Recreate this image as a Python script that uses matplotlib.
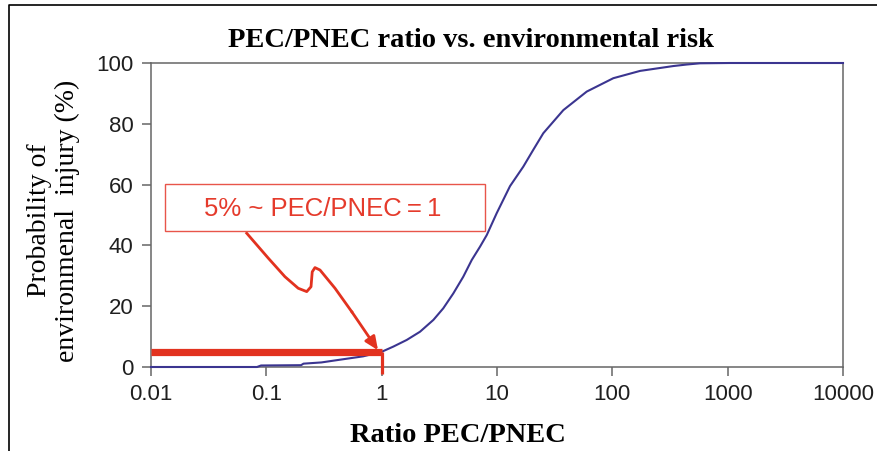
import numpy as np
import matplotlib
matplotlib.use("Agg")
import matplotlib.pyplot as plt
from matplotlib.lines import Line2D
from matplotlib.patches import Rectangle

# values
ratio = [0.01, 0.083, 0.09, 0.2, 0.21, 0.3, 0.435, 0.69, 1.0, 1.26, 1.65,
         2.15, 2.81, 3.42, 4.18, 5.10, 6.04, 7.13, 8.15, 9.94, 12.97, 16.9,
         20.6, 25.2, 37.6, 60, 102, 174, 338, 442, 576, 1047, 10000]
prob = [0, 0, 0.5, 0.6, 1.1, 1.5, 2.4, 3.5, 5.0, 6.7, 8.9,
        11.6, 15.5, 19.3, 24.2, 29.7, 35.2, 39.6, 43.4, 50.6, 59.5, 65.9,
        71.4, 76.9, 84.5, 90.6, 95.0, 97.4, 99.0, 99.5, 99.9, 100, 100]

xticks = [0.01, 0.1, 1, 10, 100, 1000, 10000]
xtick_labels = ["0.01", "0.1", "1", "10", "100", "1000", "10000"]
yticks = [0, 20, 40, 60, 80, 100]

# zig-zag arrow path (ratio, %) of the annotation
arrow_x = [0.0676, 0.104, 0.145, 0.189, 0.224, 0.244, 0.250, 0.264, 0.292,
           0.394, 0.55]
arrow_y = [44.0, 35.8, 29.7, 25.9, 24.8, 26.4, 31.3, 32.7, 31.9, 25.9, 18.2]
arrow_tip = (0.93, 5.5)

curve_col = "#3b3590"
red = "#e2321f"
grey = "#666666"
serif = ["Liberation Serif", "DejaVu Serif"]
sans = ["Liberation Sans", "DejaVu Sans"]

W, H = 878, 451
fig = plt.figure(figsize=(W / 100, H / 100), dpi=100)
ax = fig.add_axes([151 / W, 1 - 367 / H, (843 - 151) / W, (367 - 63) / H])

ax.plot(ratio, prob, color=curve_col, lw=1.5, clip_on=False, zorder=3)

# 5% marker at ratio 1
ax.plot([0.01, 1], [5, 5], color=red, lw=5.2, solid_capstyle="butt", zorder=4)
ax.plot([1, 1], [-2.2, 5], color=red, lw=2.3, solid_capstyle="butt",
        clip_on=False, zorder=4)

ax.plot(arrow_x, arrow_y, color=red, lw=2.0, solid_joinstyle="round", zorder=5)
ax.annotate("", xy=arrow_tip, xytext=(arrow_x[-1], arrow_y[-1]),
            arrowprops=dict(arrowstyle="-|>,head_length=0.8,head_width=0.35",
                            color=red, lw=2.0, shrinkA=0, shrinkB=0),
            zorder=5)

ax.add_patch(Rectangle((14 / 692, 136.3 / 304), 320 / 692, 46.7 / 304,
                       transform=ax.transAxes, fill=False, ec="#e8554a",
                       lw=1.0, zorder=6))
ax.text(172 / 692, 151 / 304, "5% ~ PEC/PNEC\u2009=\u20091", transform=ax.transAxes,
        ha="center", va="baseline", fontsize=18.5, color="#e53b2c", family=sans)

ax.set_xscale("log")
ax.set_xlim(0.01, 10000)
ax.set_ylim(0, 100)
ax.set_xticks(xticks)
ax.set_xticklabels(xtick_labels)
ax.xaxis.set_minor_locator(matplotlib.ticker.NullLocator())
ax.set_yticks(yticks)
for s in ax.spines.values():
    s.set_color(grey)
    s.set_linewidth(1.1)
ax.tick_params(direction="out", length=6.5, width=1.1, color=grey, pad=6,
               labelsize=16, labelcolor="#1f1f1f")
for lab in ax.get_xticklabels() + ax.get_yticklabels():
    lab.set_family(sans)

fig.text(471 / W, 1 - 47 / H, "PEC/PNEC ratio vs. environmental risk",
         ha="center", va="baseline", fontsize=20.5, weight="bold", family=serif)
fig.text(458 / W, 1 - 442 / H, "Ratio PEC/PNEC", ha="center", va="baseline",
         fontsize=20.5, weight="bold", family=serif)
fig.text(53.5 / W, 1 - 220.5 / H, "Probability of\nenvironmenal  injury (%)",
         rotation=90, ha="center", va="center", fontsize=20, family=serif,
         linespacing=1.1)

# outer frame (cropped at right and bottom)
fig.add_artist(Line2D([9 / W, 9 / W, 1], [0, 1 - 5 / H, 1 - 5 / H],
                      transform=fig.transFigure, color="black", lw=1.2))

fig.savefig("out.png", dpi=100)
